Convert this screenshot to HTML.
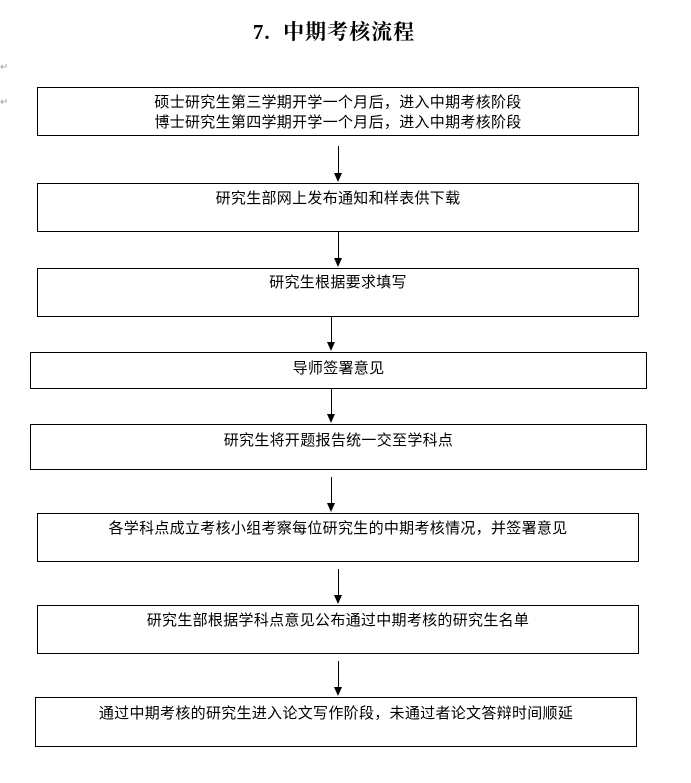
<!DOCTYPE html>
<html><head><meta charset="utf-8"><style>
body{margin:0;width:691px;height:783px;background:#fff;position:relative;overflow:hidden;font-family:"Liberation Sans","Noto Sans CJK SC",sans-serif;color:#000}
.b{position:absolute;border:1px solid #000;box-sizing:border-box;font-size:15px;text-align:center;line-height:20px;letter-spacing:0.3px}
.t{position:absolute;left:0;width:668px;top:16px;text-align:center;font-size:21px;font-weight:bold;font-family:"Liberation Serif","Noto Serif CJK SC",serif;letter-spacing:1px}
.v{position:absolute;width:1px;background:#000}
.h{position:absolute;width:0;height:0;border-left:4px solid transparent;border-right:4px solid transparent;border-top:9px solid #000}
.m{position:absolute;font-size:10px;color:#999}
</style></head><body>
<div class="t">7.&nbsp; 中期考核流程</div>
<div class="m" style="left:0;top:62px">↵</div>
<div class="m" style="left:0;top:97px">↵</div>
<div class="b" style="left:37px;top:87px;width:602px;height:49px;padding-top:5px">硕士研究生第三学期开学一个月后，进入中期考核阶段<br>博士研究生第四学期开学一个月后，进入中期考核阶段</div>
<div class="v" style="left:338px;top:146px;height:28px"></div><div class="h" style="left:334px;top:173px"></div>
<div class="b" style="left:37px;top:183px;width:602px;height:49px;padding-top:5px">研究生部网上发布通知和样表供下载</div>
<div class="v" style="left:338px;top:232px;height:27px"></div><div class="h" style="left:334px;top:258px"></div>
<div class="b" style="left:37px;top:268px;width:602px;height:49px;padding-top:4px">研究生根据要求填写</div>
<div class="v" style="left:331px;top:317px;height:26px"></div><div class="h" style="left:327px;top:342px"></div>
<div class="b" style="left:30px;top:352px;width:617px;height:37px;padding-top:6px">导师签署意见</div>
<div class="v" style="left:331px;top:389px;height:26px"></div><div class="h" style="left:327px;top:414px"></div>
<div class="b" style="left:30px;top:424px;width:617px;height:46px;padding-top:6px">研究生将开题报告统一交至学科点</div>
<div class="v" style="left:331px;top:477px;height:27px"></div><div class="h" style="left:327px;top:503px"></div>
<div class="b" style="left:37px;top:513px;width:602px;height:49px;padding-top:5px">各学科点成立考核小组考察每位研究生的中期考核情况，并签署意见</div>
<div class="v" style="left:338px;top:569px;height:27px"></div><div class="h" style="left:334px;top:595px"></div>
<div class="b" style="left:37px;top:605px;width:602px;height:49px;padding-top:5px">研究生部根据学科点意见公布通过中期考核的研究生名单</div>
<div class="v" style="left:338px;top:661px;height:27px"></div><div class="h" style="left:334px;top:687px"></div>
<div class="b" style="left:35px;top:697px;width:602px;height:50px;padding-top:6px">通过中期考核的研究生进入论文写作阶段，未通过者论文答辩时间顺延</div>
</body></html>
